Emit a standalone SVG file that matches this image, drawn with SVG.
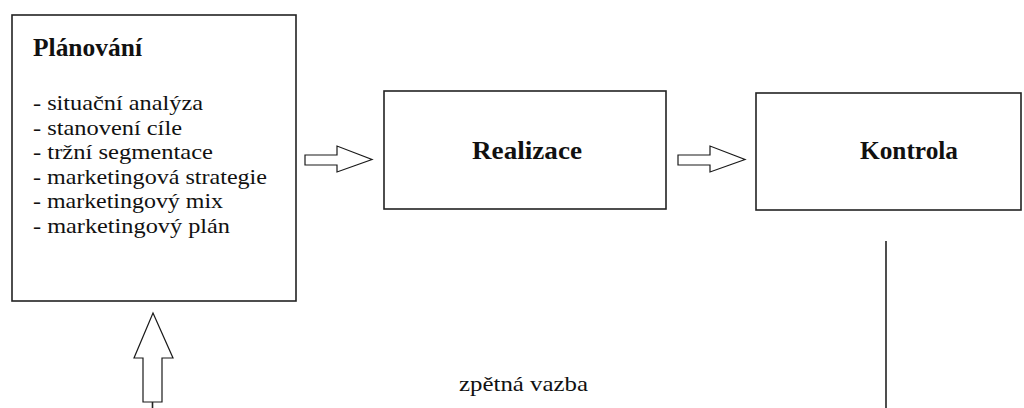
<svg xmlns="http://www.w3.org/2000/svg" width="1024" height="408" viewBox="0 0 1024 408">
  <style>
    .box { fill: #ffffff; stroke: #222222; stroke-width: 1.6; }
    .title { font-family: 'Liberation Serif', 'Times New Roman', Times, serif; font-weight: 700; font-size: 25px; fill: #111111; }
    .item { font-family: 'Liberation Serif', 'Times New Roman', Times, serif; font-weight: 400; font-size: 21.5px; fill: #111111; }
    .hollow { fill: #ffffff; stroke: #1a1a1a; stroke-width: 1.2; stroke-linejoin: miter; }
    .line { stroke: #222222; stroke-width: 1.6; fill: none; }
  </style>

  <rect width="1024" height="408" fill="#ffffff"/>

  <!-- Planning stage with its list of steps -->
  <g id="planovani">
    <rect class="box" x="12" y="15" width="284" height="286"/>
    <text class="title" x="33" y="56" textLength="109" lengthAdjust="spacingAndGlyphs">Plánování</text>
    <g class="item">
      <text x="33" y="110" textLength="170" lengthAdjust="spacingAndGlyphs">- situační analýza</text>
      <text x="33" y="134.5" textLength="149" lengthAdjust="spacingAndGlyphs">- stanovení cíle</text>
      <text x="33" y="159" textLength="180" lengthAdjust="spacingAndGlyphs">- tržní segmentace</text>
      <text x="33" y="183.5" textLength="234" lengthAdjust="spacingAndGlyphs">- marketingová strategie</text>
      <text x="33" y="208" textLength="190" lengthAdjust="spacingAndGlyphs">- marketingový mix</text>
      <text x="33" y="232.5" textLength="197" lengthAdjust="spacingAndGlyphs">- marketingový plán</text>
    </g>
  </g>

  <!-- Implementation stage -->
  <g id="realizace">
    <rect class="box" x="384" y="91" width="282" height="118"/>
    <text class="title" x="472" y="159" textLength="110" lengthAdjust="spacingAndGlyphs">Realizace</text>
  </g>

  <!-- Control stage -->
  <g id="kontrola">
    <rect class="box" x="756" y="93" width="265" height="117"/>
    <text class="title" x="860" y="159" textLength="98" lengthAdjust="spacingAndGlyphs">Kontrola</text>
  </g>

  <!-- Connectors: block arrows and the feedback loop -->
  <g id="connectors">
    <polygon class="hollow" points="305,155 337,155 337,146 372,159.5 337,172 337,165 305,165"/>
    <polygon class="hollow" points="678,155 710,155 710,146 745,159.5 710,172 710,165 678,165"/>
    <polygon class="hollow" points="153,313 173,358 162,358 162,402 143,402 143,358 134,358"/>
    <line class="line" x1="152.5" y1="402" x2="152.5" y2="408"/>
    <line class="line" x1="886" y1="241" x2="886" y2="408"/>
    <text class="item" x="459" y="391" textLength="129" lengthAdjust="spacingAndGlyphs">zpětná vazba</text>
  </g>
</svg>
